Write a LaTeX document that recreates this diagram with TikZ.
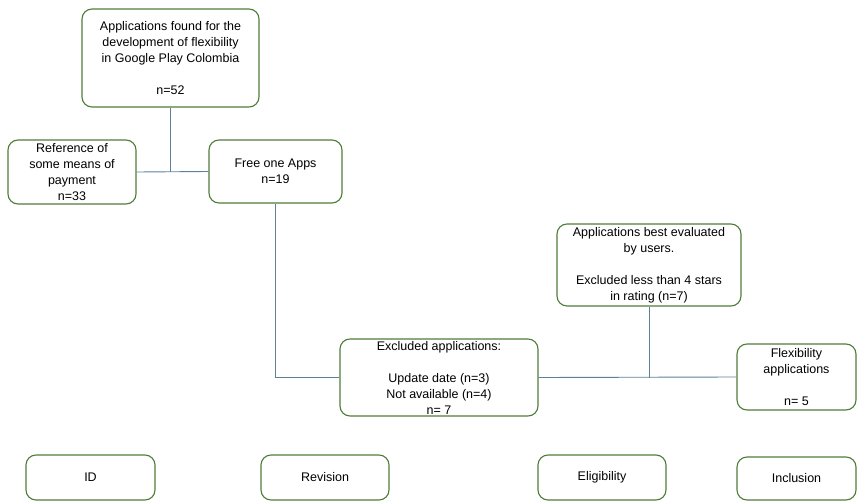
\documentclass[tikz,border=0pt]{standalone}
\usepackage{fontspec}
\setmainfont{Liberation Sans}
\begin{document}
\begin{tikzpicture}[x=1pt,y=-1pt,
  box/.style={draw=boxgreen,line width=1.1pt,rounded corners=10pt,align=center,
    font=\fontsize{12.5}{16}\selectfont,inner sep=0pt,text=black},
  conn/.style={draw=linecol,line width=0.9pt}]
\definecolor{boxgreen}{HTML}{4E7D37}
\definecolor{linecol}{HTML}{5E8199}
\useasboundingbox (0,0) rectangle (860,503);
% boxes: centre and size
\node[box,minimum width=177pt,minimum height=98pt] (top) at (170.5,58)
  {Applications found for the\\development of flexibility\\in Google Play Colombia\\[16pt]n=52};
\node[box,minimum width=128pt,minimum height=64pt] (ref) at (72,172)
  {Reference of\\some means of\\payment\\n=33};
\node[box,minimum width=133pt,minimum height=63pt] (free) at (275.5,171.5)
  {Free one Apps\\n=19};
\node[box,minimum width=184pt,minimum height=82pt] (best) at (649,265)
  {Applications best evaluated\\by users.\\[16pt]Excluded less than 4 stars\\in rating (n=7)};
\node[box,minimum width=198pt,minimum height=77pt] (excl) at (439,377.5)
  {Excluded applications:\\[16pt]Update date (n=3)\\Not available (n=4)\\n= 7};
\node[box,minimum width=119pt,minimum height=66pt] (flex) at (796.5,377)
  {Flexibility\\applications\\[16pt]n= 5};
\node[box,minimum width=129pt,minimum height=45pt] (id) at (90.5,477.5) {ID};
\node[box,minimum width=128pt,minimum height=45pt] (rev) at (325,477.5) {Revision};
\node[box,minimum width=128pt,minimum height=45pt] (elig) at (602,477.5) {Eligibility};
\node[box,minimum width=119pt,minimum height=43pt] (incl) at (796.5,478.5) {Inclusion};
% connectors
\draw[conn] (ref.east) -- (free.west);
\coordinate (j1) at (top.south |- ref.east);
\draw[conn] (top.south) -- (j1);
\draw[conn] (free.south) |- (excl.west);
\draw[conn] (excl.east) -- (flex.west);
\coordinate (j2) at (best.south |- excl.east);
\draw[conn] (best.south) -- (j2);
\end{tikzpicture}
\end{document}
